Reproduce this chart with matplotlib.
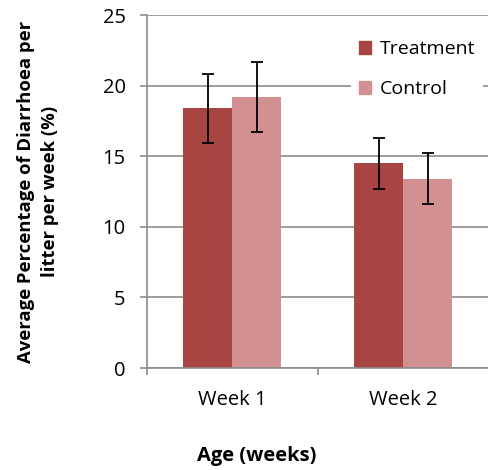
import numpy as np
import matplotlib.pyplot as plt
from matplotlib.patches import Patch

weeks = ["Week 1", "Week 2"]
treatment = [18.4, 14.5]
control = [19.2, 13.4]
treatment_err = [2.45, 1.8]
control_err = [2.5, 1.8]

c_treat = "#a84543"
c_ctrl = "#d29190"
grid_c = "#8c8c8c"

fig = plt.figure(figsize=(4.89, 4.70), dpi=100)
ax = fig.add_axes([0.2996, 0.217, 0.7004, 0.751])

x = np.arange(len(weeks))
w = 0.286
ax.bar(x - w/2, treatment, w, color=c_treat, zorder=2)
ax.bar(x + w/2, control, w, color=c_ctrl, zorder=2)
ax.errorbar(x - w/2, treatment, yerr=treatment_err, fmt="none", ecolor="black",
            elinewidth=1.3, capsize=4, capthick=1.3, zorder=3)
ax.errorbar(x + w/2, control, yerr=control_err, fmt="none", ecolor="black",
            elinewidth=1.3, capsize=4, capthick=1.3, zorder=3)

ax.set_xlim(-0.5, 1.5)
ax.set_ylim(0, 25)
ax.set_yticks([0, 5, 10, 15, 20, 25])
ax.yaxis.grid(True, color=grid_c, linewidth=1.2, zorder=0)
ax.set_axisbelow(True)

ax.set_xticks(x)
ax.set_xticklabels(weeks, fontsize=14.5, fontfamily="Open Sans")
ax.set_xticks([-0.5, 0.5, 1.5], minor=True)
ax.tick_params(axis="x", which="major", length=0, pad=16)
ax.tick_params(axis="x", which="minor", length=5, color=grid_c, width=1.2)
ax.tick_params(axis="y", length=5, color=grid_c, width=1.2, labelsize=14.5, pad=10)
for lab in ax.get_yticklabels():
    lab.set_fontfamily("Open Sans")

for s in ["top", "right"]:
    ax.spines[s].set_visible(False)
for s in ["left", "bottom"]:
    ax.spines[s].set_color(grid_c)
    ax.spines[s].set_linewidth(1.2)

handles = [Patch(color=c_treat, label="Treatment"), Patch(color=c_ctrl, label="Control")]
leg = ax.legend(handles=handles, loc="upper left", bbox_to_anchor=(0.597, 0.95),
                frameon=True, fancybox=False, edgecolor="none", framealpha=1,
                handlelength=0.65, handleheight=0.65, handletextpad=0.45,
                labelspacing=1.1, borderpad=0.4, borderaxespad=0,
                prop={"family": "Open Sans", "size": 14})

ax.set_ylabel("Average Percentage of Diarrhoea per\nlitter per week (%)",
              fontsize=13.3, fontweight="bold", linespacing=1.45,
              fontfamily="Open Sans", labelpad=31)
fig.text(257/489, 1 - 456/470, "Age (weeks)", ha="center", va="center",
         fontsize=14.5, fontweight="bold", fontfamily="Open Sans")

fig.savefig("out.png", dpi=100)
